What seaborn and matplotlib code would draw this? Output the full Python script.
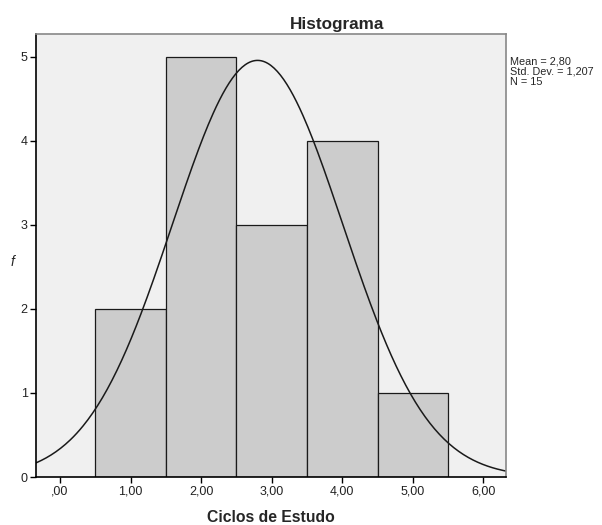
import numpy as np
import pandas as pd
import matplotlib
matplotlib.use("Agg")
import matplotlib.pyplot as plt
import seaborn as sns

# Ciclos de Estudo: valor e frequência
ciclos = [1, 2, 3, 4, 5]
freq = [2, 5, 3, 4, 1]
bin_edges = [0.5, 1.5, 2.5, 3.5, 4.5, 5.5]
xticks = [0, 1, 2, 3, 4, 5, 6]
xtick_labels = [",00", "1,00", "2,00", "3,00", "4,00", "5,00", "6,00"]
yticks = [0, 1, 2, 3, 4, 5]

values = np.repeat(ciclos, freq)
df = pd.DataFrame({"ciclos": values})
mean = df["ciclos"].mean()
sd = df["ciclos"].std()
n = len(df)

sns.set_theme(style="white")
plt.rcParams["font.family"] = ["Liberation Sans", "DejaVu Sans"]

fig = plt.figure(figsize=(6.02, 5.25), dpi=100)
ax = fig.add_axes([0.0598, 0.0914, 0.7807, 0.8436])
ax.set_facecolor("#f0f0f0")

sns.histplot(data=df, x="ciclos", bins=bin_edges, color="#cccccc", alpha=1,
             edgecolor="#1a1a1a", linewidth=0.9, ax=ax)

# normal curve scaled to counts (bin width 1)
xs = np.linspace(-0.4, 6.4, 300)
ys = n * 1.0 / (sd * np.sqrt(2 * np.pi)) * np.exp(-0.5 * ((xs - mean) / sd) ** 2)
sns.lineplot(x=xs, y=ys, color="#1a1a1a", linewidth=1.1, ax=ax)

ax.set_xlim(-0.34, 6.32)
ax.set_ylim(0, 5.27)
ax.set_xticks(xticks)
ax.set_xticklabels(xtick_labels)
ax.set_yticks(yticks)
ax.tick_params(axis="both", which="both", length=4, width=1, color="black",
               labelsize=9, labelcolor="#222222", direction="out",
               bottom=True, left=True, pad=2)

for side in ["left", "bottom"]:
    ax.spines[side].set_color("black")
    ax.spines[side].set_linewidth(1.2)
for side in ["top", "right"]:
    ax.spines[side].set_color("#888888")
    ax.spines[side].set_linewidth(1.2)

ax.set_xlabel("Ciclos de Estudo", fontsize=11.3, fontweight="bold", labelpad=9)
ax.set_ylabel("f", fontsize=10, fontstyle="italic", rotation=0)
ax.yaxis.set_label_coords(-0.05, 0.47)
ax.set_title("Histograma", fontsize=12.3, fontweight="bold", x=0.64, pad=4)

fig.text(0.848, 0.892,
         "Mean = {:.2f}\nStd. Dev. = {:.3f}\nN = {}".format(mean, sd, n).replace(".", ",").replace("Std, Dev,", "Std. Dev."),
         fontsize=7.8, va="top", ha="left", linespacing=1.0)

fig.savefig("out.png", dpi=100)
